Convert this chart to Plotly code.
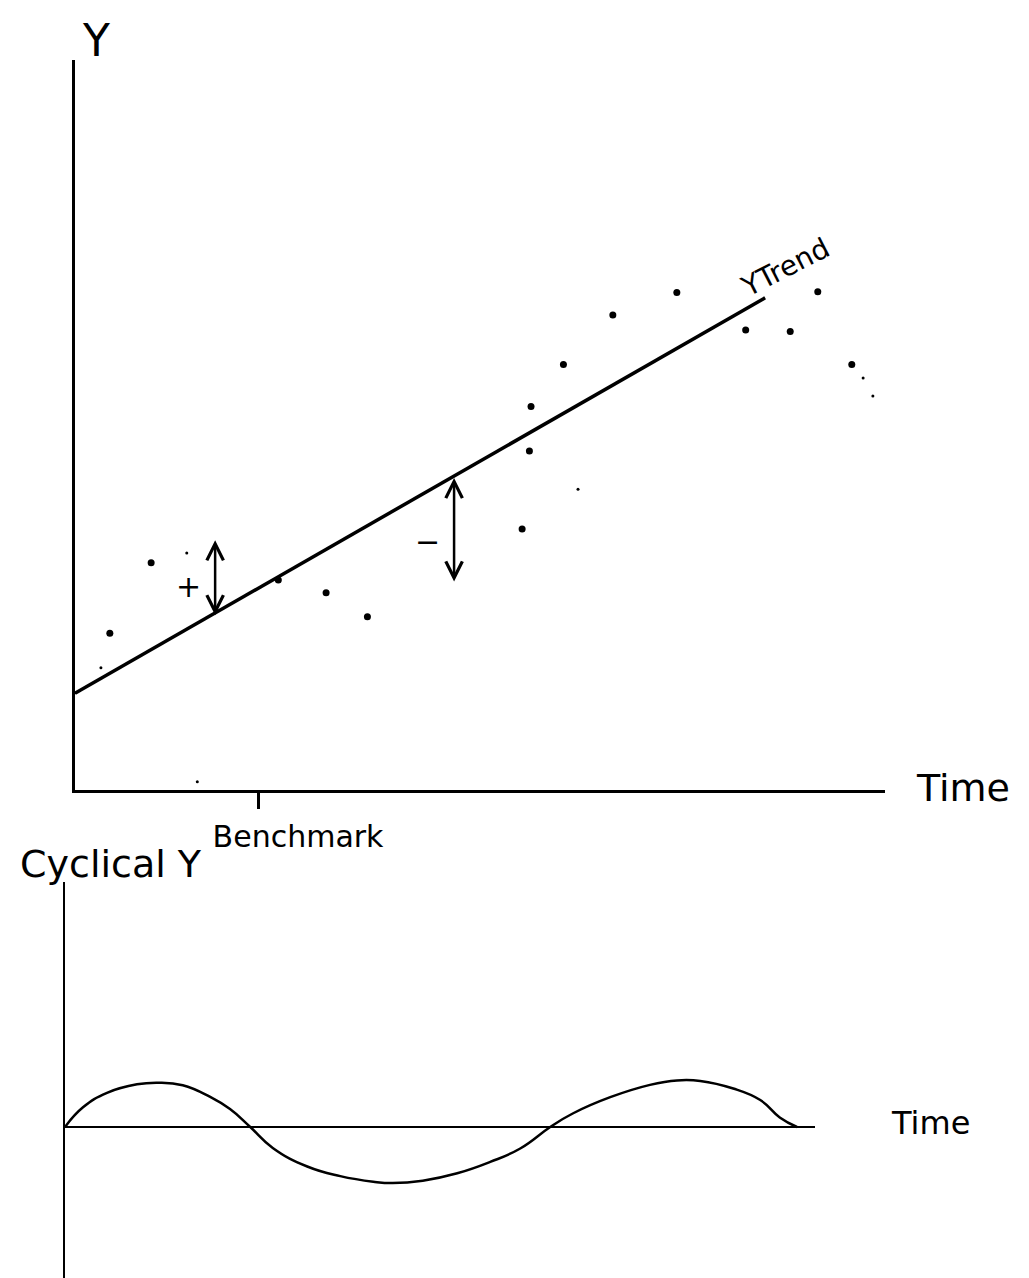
import plotly.graph_objects as go

W, H = 1029, 1278
OFF = 8  # page body margin of the browser
FONT = "DejaVu Sans"

# ---------------- Top panel data ----------------
trend_t = [0.0, 8.52]
trend_y = [1.29, 6.56]

obs_t = [0.43, 0.94, 2.51, 3.10, 3.61, 5.52, 5.61, 5.63, 6.03, 6.64, 7.43, 8.28, 8.83, 9.17, 9.59]
obs_y = [2.09, 3.03, 2.80, 2.63, 2.31, 3.48, 4.52, 5.11, 5.67, 6.33, 6.63, 6.13, 6.11, 6.64, 5.67]

faint_t = [0.32, 1.38, 1.51, 6.21, 9.73, 9.85, 10.41]
faint_y = [1.63, 3.16, 0.11, 4.01, 5.49, 5.25, 5.35]

benchmark_t = [2.26]
benchmark_label = ["Benchmark"]

# deviation arrows (time, upper end, lower end)
dev_t = [1.73, 4.68]
dev_top = [3.33, 4.16]
dev_bot = [2.31, 2.76]
dev_sign = ["+", "−"]
dev_sign_t = [1.40, 4.35]
dev_sign_y = [2.71, 3.31]

# ---------------- Bottom panel data ----------------
cyc_t = [0, 0.24, 0.56, 0.96, 1.24, 1.57, 1.93, 2.2, 2.47, 2.77, 3.23, 3.67, 4.11, 4.37,
         4.77, 5.23, 5.67, 6.07, 6.47, 6.77, 7.27, 7.8, 8.16, 8.47, 8.91, 9.27, 9.53, 9.76]
cyc_y = [0, 1.97, 3.42, 4.27, 4.43, 4.18, 3.03, 1.79, 0, -2.09, -3.95, -4.91, -5.47, -5.61,
         -5.37, -4.63, -3.49, -2.15, 0, 1.35, 2.98, 4.21, 4.66, 4.61, 3.85, 2.7, 0.96, 0]


def px_x(p):
    return (p - OFF) / W


def px_y(p):
    return 1 - (p - OFF) / H


fig = go.Figure()

fig.add_trace(go.Scatter(x=trend_t, y=trend_y, mode="lines",
                         line=dict(color="black", width=3.5), xaxis="x", yaxis="y",
                         cliponaxis=False, showlegend=False))
fig.add_trace(go.Scatter(x=obs_t, y=obs_y, mode="markers",
                         marker=dict(color="black", size=7), xaxis="x", yaxis="y",
                         cliponaxis=False, showlegend=False))
fig.add_trace(go.Scatter(x=faint_t, y=faint_y, mode="markers",
                         marker=dict(color="black", size=3), xaxis="x", yaxis="y",
                         cliponaxis=False, showlegend=False))
fig.add_trace(go.Scatter(x=cyc_t, y=cyc_y, mode="lines",
                         line=dict(color="black", width=2.5, shape="spline", smoothing=1.3),
                         xaxis="x2", yaxis="y2", cliponaxis=False, showlegend=False))

annotations = []
for t, top, bot in zip(dev_t, dev_top, dev_bot):
    annotations.append(dict(x=t, y=top, ax=t, ay=bot, xref="x", yref="y", axref="x", ayref="y",
                            text="", showarrow=True, arrowside="end+start",
                            arrowhead=5, startarrowhead=5, arrowsize=1.3, startarrowsize=1.3,
                            arrowwidth=2.5, arrowcolor="black"))
for s, t, y in zip(dev_sign, dev_sign_t, dev_sign_y):
    annotations.append(dict(x=t, y=y, xref="x", yref="y", text=s, showarrow=False,
                            font=dict(family=FONT, size=30, color="black")))


def label(text, x, y, size, **kw):
    d = dict(x=px_x(x), y=px_y(y), xref="paper", yref="paper", text=text, showarrow=False,
             xanchor="center", yanchor="middle",
             font=dict(family=FONT, size=size, color="black"))
    d.update(kw)
    return d


annotations += [
    label("Y", 96, 40, 44),
    label("Time", 963, 788, 38),
    dict(x=8.77, y=6.96, xref="x", yref="y", text="YTrend", showarrow=False, textangle=-27,
         font=dict(family=FONT, size=28, color="black")),
    label("Cyclical Y", 18, 864, 38, xanchor="left"),
    label("Time", 930, 1123, 32),
]

fig.update_layout(
    width=W, height=H,
    margin=dict(l=0, r=0, t=0, b=0),
    paper_bgcolor="white", plot_bgcolor="white",
    showlegend=False,
    xaxis=dict(domain=[px_x(75), px_x(885)], range=[0, 10], anchor="y",
               showgrid=False, zeroline=False, showline=True, linecolor="black", linewidth=3,
               tickmode="array", tickvals=benchmark_t, ticktext=benchmark_label,
               ticks="outside", ticklen=16, tickwidth=3, tickcolor="black",
               ticklabelshift=40, ticklabelstandoff=2,
               tickfont=dict(family=FONT, size=30, color="black")),
    yaxis=dict(domain=[px_y(790), px_y(60)], range=[0, 9.73], anchor="x",
               showgrid=False, zeroline=False, showline=True, linecolor="black", linewidth=3,
               showticklabels=False, ticks=""),
    xaxis2=dict(domain=[px_x(65), px_x(815)], range=[0, 10], anchor="y2",
                showgrid=False, zeroline=False, showline=False,
                showticklabels=False, ticks=""),
    yaxis2=dict(domain=[0, px_y(882)], range=[-15.9, 24.5], anchor="x2",
                showgrid=False, zeroline=True, zerolinecolor="black", zerolinewidth=2,
                showline=True, linecolor="black", linewidth=2,
                showticklabels=False, ticks=""),
    annotations=annotations,
)

fig.write_html("out.html")
